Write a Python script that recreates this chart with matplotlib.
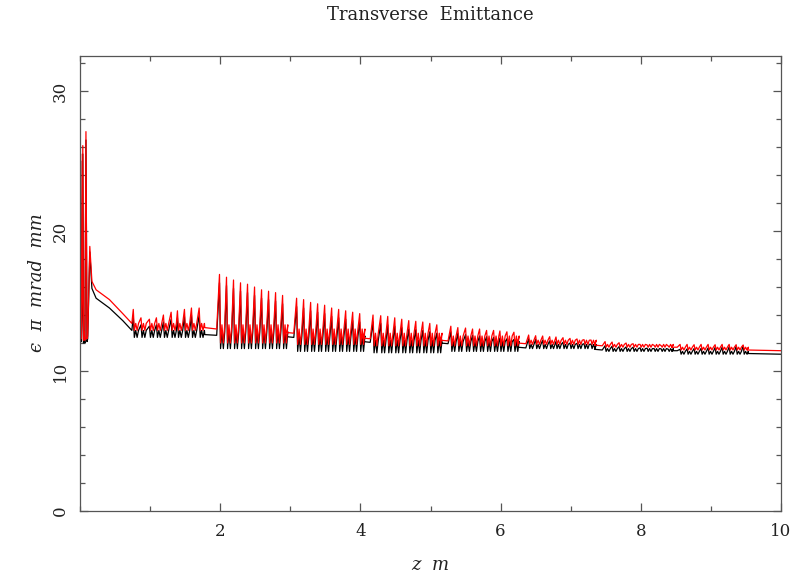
import numpy as np
import matplotlib
matplotlib.use('Agg')
import matplotlib.pyplot as plt
from matplotlib.ticker import MultipleLocator

# --- data (z in m, emittance in pi mrad mm) ---

# entrance region: explicit points
start_z = [0.0, 0.01, 0.02, 0.03, 0.04, 0.05, 0.06, 0.07, 0.085, 0.10, 0.11, 0.14, 0.17, 0.23, 0.42, 0.61, 0.74]
start_red = [12.5, 25.5, 12.3, 15.0, 26.1, 12.2, 12.8, 12.2, 27.1, 12.3, 12.5, 18.9, 16.4, 15.8, 15.1, 14.1, 13.4]
start_black = [12.3, 25.0, 12.1, 14.0, 25.5, 12.0, 12.5, 12.0, 26.5, 12.1, 12.3, 18.5, 15.9, 15.2, 14.5, 13.6, 12.9]

# spike zones: spike positions and peak heights
zone_z = [
    [0.76, 0.87, 0.99, 1.09, 1.19, 1.30, 1.39, 1.49, 1.59, 1.70],
    [1.99, 2.09, 2.19, 2.29, 2.39, 2.49, 2.59, 2.69, 2.79, 2.89],
    [3.09, 3.19, 3.29, 3.39, 3.49, 3.59, 3.69, 3.79, 3.89, 3.99],
    [4.18, 4.29, 4.39, 4.49, 4.59, 4.69, 4.79, 4.89, 4.99, 5.09],
    [5.29, 5.39, 5.50, 5.60, 5.70, 5.80, 5.90, 5.99, 6.09, 6.19],
    [6.40, 6.50, 6.60, 6.70, 6.79, 6.89, 6.99, 7.09, 7.19, 7.29],
    [7.49, 7.59, 7.69, 7.79, 7.89, 7.99, 8.09, 8.19, 8.29, 8.39],
    [8.56, 8.66, 8.76, 8.86, 8.96, 9.06, 9.16, 9.26, 9.36, 9.46],
]
zone_red_peak = [
    [14.4, 13.8, 13.7, 13.8, 14.0, 14.2, 14.3, 14.4, 14.5, 14.5],
    [16.9, 16.7, 16.5, 16.3, 16.2, 16.0, 15.8, 15.7, 15.6, 15.4],
    [15.2, 15.1, 14.9, 14.8, 14.7, 14.5, 14.4, 14.3, 14.2, 14.1],
    [14.0, 13.95, 13.9, 13.8, 13.7, 13.6, 13.55, 13.5, 13.4, 13.3],
    [13.2, 13.1, 13.07, 13.0, 13.0, 12.9, 12.9, 12.86, 12.8, 12.77],
    [12.57, 12.52, 12.5, 12.45, 12.43, 12.38, 12.33, 12.29, 12.24, 12.21],
    [12.1, 12.07, 12.02, 12.0, 11.95, 11.9, 11.86, 11.83, 11.81, 11.79],
    [11.9, 11.9, 11.88, 11.9, 11.9, 11.88, 11.9, 11.9, 11.88, 11.86],
]
zone_black_peak = [
    [13.9, 13.3, 13.2, 13.3, 13.5, 13.7, 13.8, 13.9, 14.0, 14.0],
    [16.3, 16.1, 15.9, 15.7, 15.6, 15.4, 15.2, 15.1, 15.0, 14.8],
    [14.6, 14.5, 14.3, 14.2, 14.1, 13.9, 13.8, 13.7, 13.6, 13.5],
    [13.5, 13.4, 13.3, 13.2, 13.1, 13.0, 12.95, 12.9, 12.8, 12.7],
    [12.8, 12.7, 12.6, 12.55, 12.5, 12.45, 12.4, 12.35, 12.3, 12.25],
    [12.3, 12.25, 12.2, 12.15, 12.1, 12.05, 12.0, 11.98, 11.95, 11.92],
    [11.8, 11.77, 11.74, 11.72, 11.7, 11.66, 11.63, 11.6, 11.58, 11.56],
    [11.55, 11.58, 11.6, 11.62, 11.65, 11.68, 11.7, 11.72, 11.75, 11.78],
]
# per zone: red trough, red secondary, black trough, black secondary
zone_red_trough = [12.9, 12.0, 11.9, 11.8, 11.8, 11.9, 11.7, 11.5]
zone_red_second = [13.4, 13.3, 13.0, 12.7, 12.5, 12.2, 11.9, 11.7]
zone_black_trough = [12.4, 11.6, 11.4, 11.3, 11.4, 11.6, 11.4, 11.2]
zone_black_second = [12.9, 12.8, 12.5, 12.2, 12.1, 11.9, 11.6, 11.4]

# flat stretches after each zone
gap_z = [[1.78, 1.95], [2.95, 3.05], [4.04, 4.14], [5.14, 5.25], [6.24, 6.36], [7.34, 7.45], [8.44, 8.52], [9.52, 10.0]]
gap_red = [[13.1, 13.0], [12.75, 12.7], [12.35, 12.3], [12.2, 12.15], [12.0, 11.95], [11.85, 11.8], [11.7, 11.7], [11.5, 11.45]]
gap_black = [[12.6, 12.55], [12.45, 12.4], [12.1, 12.05], [12.0, 11.95], [11.7, 11.65], [11.55, 11.5], [11.45, 11.45], [11.25, 11.2]]

# shape of one 0.1 m period after each spike
period_dz = [0.0, 0.015, 0.035, 0.055, 0.075]


def build_trace(s_z, s_v, peaks, trough, second, gz, gv):
    zs = list(s_z)
    vs = list(s_v)
    for k in range(len(zone_z)):
        for z0, p in zip(zone_z[k], peaks[k]):
            zs += [z0 + d for d in period_dz]
            vs += [p, trough[k], second[k], trough[k], second[k]]
        zs += gz[k]
        vs += gv[k]
    return np.array(zs), np.array(vs)


z_black, e_black = build_trace(start_z, start_black, zone_black_peak, zone_black_trough,
                               zone_black_second, gap_z, gap_black)
z_red, e_red = build_trace(start_z, start_red, zone_red_peak, zone_red_trough,
                           zone_red_second, gap_z, gap_red)

fig = plt.figure(figsize=(8.08, 5.77), dpi=100)
ax = fig.add_axes([0.099, 0.1144, 0.8676, 0.7885])

ax.plot(z_black, e_black, color='black', lw=0.9)
ax.plot(z_red, e_red, color='red', lw=0.9)

ax.set_xlim(0, 10)
ax.set_ylim(0, 32.5)
ax.xaxis.set_major_locator(MultipleLocator(2))
ax.xaxis.set_minor_locator(MultipleLocator(1))
ax.yaxis.set_major_locator(MultipleLocator(10))
ax.yaxis.set_minor_locator(MultipleLocator(2))
ax.tick_params(which='both', direction='in', top=True, right=True, colors='#555555',
               labelcolor='#222222', labelsize=12, width=0.9)
ax.tick_params(which='major', length=6)
ax.tick_params(which='minor', length=3.5)
ax.tick_params(axis='x', pad=9)
ax.tick_params(axis='y', pad=8)
ax.set_xticks([2, 4, 6, 8, 10])
for lab in ax.get_xticklabels() + ax.get_yticklabels():
    lab.set_family('DejaVu Serif')
for lab in ax.get_yticklabels():
    lab.set_rotation(90)
    lab.set_va('center')
for s in ax.spines.values():
    s.set_color('#555555')
    s.set_linewidth(0.9)

fig.text(0.533, 0.974, 'Transverse  Emittance', ha='center', va='center',
         fontsize=13, family='DejaVu Serif', color='#222222')
fig.text(0.046, 0.51, 'ϵ  π  mrad  mm', rotation=90, ha='center', va='center',
         fontsize=13, family='DejaVu Serif', style='italic', color='#222222')
fig.text(0.533, 0.012, 'z  m', ha='center', va='baseline',
         fontsize=13, family='DejaVu Serif', style='italic', color='#222222')

fig.savefig('out.png', dpi=100)
